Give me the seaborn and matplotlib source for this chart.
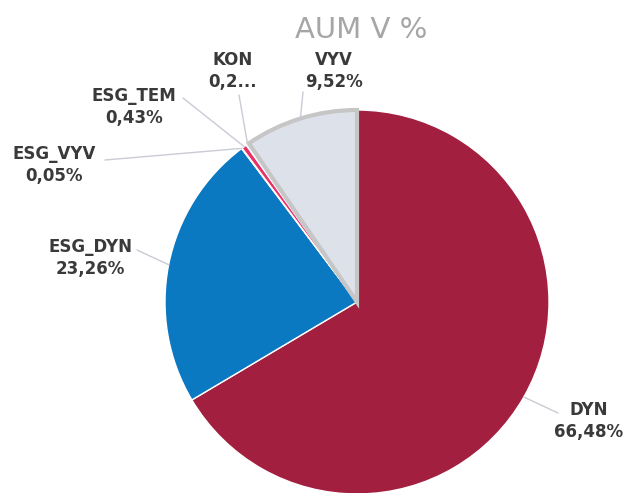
import numpy as np
import matplotlib
matplotlib.use("Agg")
import matplotlib.pyplot as plt
import seaborn as sns

# datos del grafico
categorias = ["DYN", "ESG_DYN", "ESG_VYV", "ESG_TEM", "KON", "VYV"]
podiely = [66.48, 23.26, 0.05, 0.43, 0.26, 9.52]
etiquetas_pct = ["66,48%", "23,26%", "0,05%", "0,43%", "0,2...", "9,52%"]
colores = ["#A21F3F", "#0B78C2", "#7FA7D6", "#E8336A", "#FFFFFF", "#DDE1EA"]

sns.set_theme(style="white")
plt.rcParams['font.family'] = ['DejaVu Sans']

W, H = 628, 493
fig = plt.figure(figsize=(W / 100, H / 100), dpi=100)
ax = fig.add_axes([0, 0, 1, 1])

# centro y radio del pastel en pixeles
cx, cy, R = 357, 302, 192


def px(x, y):
    # pixel -> coordenadas del eje (radio = 1)
    return (x - cx) / R, (cy - y) / R


ax.set_xlim(-cx / R, (W - cx) / R)
ax.set_ylim(-(H - cy) / R, cy / R)
ax.axis("off")

wedges, _ = ax.pie(podiely, colors=colores, startangle=90, counterclock=False,
                   radius=1, center=(0, 0), frame=True,
                   wedgeprops=dict(edgecolor="white", linewidth=1))
ax.set_xlim(-cx / R, (W - cx) / R)
ax.set_ylim(-(H - cy) / R, cy / R)
ax.axis("off")

# borde gris del segmento VYV
wedges[5].set_edgecolor("#C6C6C6")
wedges[5].set_linewidth(3)

# posiciones de etiquetas (pixeles): centro del texto, fin de la linea guia
pos_texto = {
    "DYN": (589, 421),
    "ESG_DYN": (90, 258),
    "ESG_VYV": (54, 165),
    "ESG_TEM": (134, 107),
    "KON": (233, 71),
    "VYV": (334, 71),
}
fin_linea = {
    "DYN": (558, 413),
    "ESG_DYN": (137, 250),
    "ESG_VYV": (105, 160),
    "ESG_TEM": (183, 98),
    "KON": (239, 95),
    "VYV": (303, 92),
}

for w, cat, pct in zip(wedges, categorias, etiquetas_pct):
    ang = np.deg2rad((w.theta1 + w.theta2) / 2)
    ancla = (np.cos(ang), np.sin(ang))
    ex, ey = px(*fin_linea[cat])
    ax.plot([ancla[0], ex], [ancla[1], ey], color="#C9CBD6", lw=1, zorder=1)
    tx, ty = px(*pos_texto[cat])
    ax.text(tx, ty, f"{cat}\n{pct}", ha="center", va="center",
            fontsize=12, fontweight="bold", color="#3A3A3A", linespacing=1.35)

tx, ty = px(361, 30)
ax.text(tx, ty, "AUM V %", ha="center", va="center", fontsize=21,
        color="#A6A6A6")

fig.savefig("out.png", dpi=100)
